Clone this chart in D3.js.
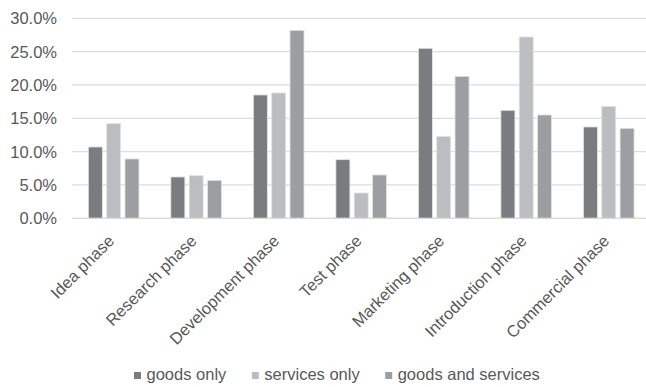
<!DOCTYPE html>
<html>
<head>
<meta charset="utf-8">
<script src="https://cdn.jsdelivr.net/npm/d3@7/dist/d3.min.js"></script>
<style>
  html, body { margin: 0; padding: 0; background: #fff; }
  svg { display: block; font-family: "Liberation Sans", Arial, sans-serif; }
</style>
</head>
<body>
<svg id="chart" width="646" height="387"></svg>
<script>
// Share of firms per innovation phase, by offering type
const categories = ["Idea phase", "Research phase", "Development phase", "Test phase",
                    "Marketing phase", "Introduction phase", "Commercial phase"];
const seriesNames = ["goods only", "services only", "goods and services"];
const goodsOnly        = [0.107, 0.062, 0.185, 0.088, 0.255, 0.162, 0.137];
const servicesOnly     = [0.142, 0.064, 0.188, 0.038, 0.123, 0.272, 0.168];
const goodsAndServices = [0.089, 0.057, 0.282, 0.065, 0.213, 0.155, 0.135];
const yTicks = [0, 0.05, 0.10, 0.15, 0.20, 0.25, 0.30];
const colors = ["#7b7c80", "#bcbdc1", "#9d9ea2"];

const seriesValues = [goodsOnly, servicesOnly, goodsAndServices];

const svg = d3.select("#chart");
const textColor = "#595959";
const fontSize = 16.5;

const x0 = d3.scaleBand().domain(categories).range([72.4, 650]).paddingInner(0).paddingOuter(0);
const x1 = d3.scaleBand().domain(seriesNames).range([0, x0.bandwidth()])
  .paddingInner(0.235).paddingOuter(0.87);
const y = d3.scaleLinear().domain([0, 0.30]).range([218.3, 18.3]);

// gridlines
svg.append("g").selectAll("line").data(yTicks).join("line")
  .attr("x1", 72).attr("x2", 646)
  .attr("y1", d => y(d)).attr("y2", d => y(d))
  .attr("stroke", "#dcdcdc").attr("stroke-width", 1.3);

// y axis labels
const fmt = d3.format(".1%");
svg.append("g").selectAll("text").data(yTicks).join("text")
  .attr("x", 57).attr("y", d => y(d)).attr("dy", "0.36em")
  .attr("text-anchor", "end")
  .attr("fill", textColor).attr("font-size", fontSize)
  .text(d => fmt(d));

// bars
const groups = svg.append("g").selectAll("g").data(categories).join("g")
  .attr("transform", d => `translate(${x0(d)},0)`);
groups.selectAll("rect")
  .data((c, i) => seriesNames.map((s, k) => ({ s, k, v: seriesValues[k][i] })))
  .join("rect")
  .attr("x", d => x1(d.s))
  .attr("width", x1.bandwidth())
  .attr("y", d => y(d.v))
  .attr("height", d => y(0) - y(d.v))
  .attr("fill", d => colors[d.k])
  .attr("stroke", "#e4e4e4").attr("stroke-width", 0.8);

// baseline
svg.append("line")
  .attr("x1", 72).attr("x2", 646).attr("y1", y(0)).attr("y2", y(0))
  .attr("stroke", "#d9d9d9").attr("stroke-width", 1.3);

// rotated category labels
svg.append("g").selectAll("text").data(categories).join("text")
  .attr("transform", d => `translate(${x0(d) + x0.bandwidth() / 2 + 1.5},242) rotate(-45)`)
  .attr("text-anchor", "end")
  .attr("fill", textColor).attr("font-size", fontSize)
  .text(d => d);

// legend
const legend = svg.append("g");
let lx = 134;
seriesNames.forEach((name, k) => {
  legend.append("rect").attr("x", lx).attr("y", 372).attr("width", 7).attr("height", 7)
    .attr("fill", colors[k]);
  const t = legend.append("text").attr("x", lx + 12.5).attr("y", 380)
    .attr("fill", textColor).attr("font-size", fontSize).text(name);
  lx += 12.5 + t.node().getComputedTextLength() + 25.5;
});
</script>
</body>
</html>
